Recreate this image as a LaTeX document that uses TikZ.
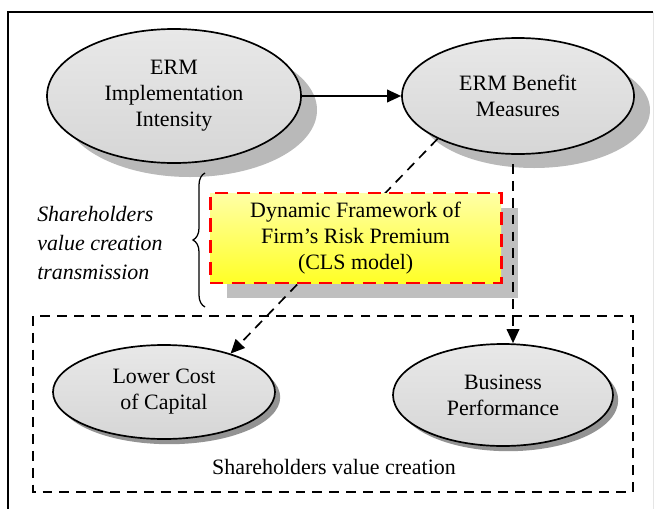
\documentclass[tikz,border=0pt]{standalone}
\usepackage{fontspec}
\setmainfont{Liberation Serif}
\usetikzlibrary{shapes.geometric,arrows.meta,shadows,decorations.pathreplacing}

\tikzset{
	factor/.style = {
		ellipse, draw, line width=1.2pt, align=center, inner sep=0pt,
		top color=gray!18, middle color=white, bottom color=gray!32,
		font=\fontsize{15.6}{18.5}\selectfont,
	},
	bigshadow/.style = {
		drop shadow={shadow xshift=0.4cm, shadow yshift=-0.35cm, fill=gray!55, opacity=1},
	},
	smallshadow/.style = {
		drop shadow={shadow xshift=0.13cm, shadow yshift=-0.13cm, fill=gray!85, opacity=1},
	},
	premium/.style = {
		rectangle, draw=red, line width=2pt, dash pattern=on 9.5pt off 6pt,
		top color=yellow!35, middle color=yellow!4, bottom color=yellow!85,
		align=center, inner sep=0pt,
		minimum width=7.275cm, minimum height=2.25cm,
		font=\fontsize{15.6}{18.5}\selectfont,
	},
	link/.style = {line width=1.2pt, -{Triangle[length=10pt, width=9pt]}},
	dashlink/.style = {link, dash pattern=on 7pt off 5pt},
	group/.style = {line width=1.2pt, dash pattern=on 7pt off 5pt},
}

\begin{document}
\begin{tikzpicture}
	\useasboundingbox (0, 0) rectangle (16.375, -12.7);
	\clip (0, 0) rectangle (16.375, -12.7);
	% outer frame, runs off the page right and bottom
	\draw[line width=1.3pt] (0.2, -13) -- (0.2, -0.31) -- (16.33, -0.31);
	\draw[gray!20] (16.33, -0.31) -- (16.33, -13);

	\node[factor, bigshadow, minimum width=6.35cm, minimum height=3.35cm] (intensity) at (4.35, -2.4) {ERM\\Implementation\\Intensity};
	\node[factor, bigshadow, minimum width=5.8cm, minimum height=2.9cm] (benefit) at (12.95, -2.4) {ERM Benefit\\Measures};
	\draw[link] (intensity) -- (benefit);

	% value creation group
	\draw[group] (0.825, -7.9) rectangle (15.825, -12.3);
	\node[factor, smallshadow, minimum width=5.55cm, minimum height=2.35cm] (cost) at (4.1, -9.8) {Lower Cost\\of Capital};
	\node[factor, smallshadow, minimum width=5.5cm, minimum height=2.55cm] (perf) at (12.575, -9.875) {Business\\Performance};
	\node[font=\fontsize{15.6}{18.5}\selectfont] (creation) at (8.35, -11.675) {Shareholders value creation};

	% shadow of the framework box goes under the links
	\fill[gray!50] (5.675, -5.2) rectangle ++(7.275, -2.25);
	\draw[dashlink] (benefit.208) -- (cost.30);
	\draw[dashlink] ([xshift=-1.25mm, yshift=-2.3mm]benefit.south) -- ([xshift=-1.25mm]benefit.south |- perf.north);
	\node[premium] (premium) at (8.89, -5.95) {Dynamic Framework of\\Firm’s Risk Premium\\(CLS model)};

	\node[anchor=west, align=left, inner sep=0pt, font=\itshape\fontsize{15.6}{20.5}\selectfont] (transmission) at (0.925, -6.075) {Shareholders\\value creation\\transmission};
	\draw[decorate, decoration={brace, amplitude=0.3cm}, line width=0.9pt] (5.125, -7.675) -- (5.125, -4.325);
\end{tikzpicture}
\end{document}
